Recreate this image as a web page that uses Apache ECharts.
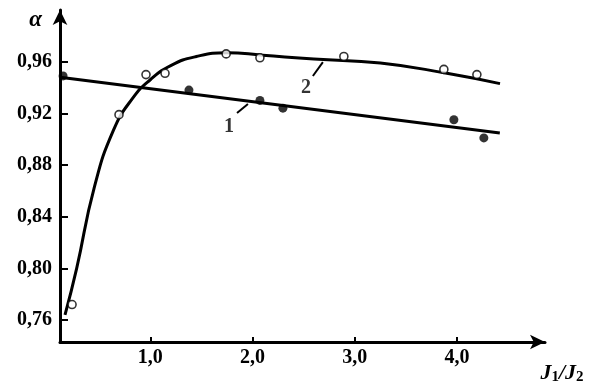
<!DOCTYPE html>
<html>
<head>
<meta charset="utf-8">
<script src="https://cdn.jsdelivr.net/npm/echarts@6/dist/echarts.min.js"></script>
<style>
    html, body { margin: 0; padding: 0; background: #fff; }
    #chart { width: 594px; height: 390px; }
</style>
</head>
<body>
<div id="chart"></div>
<script>
// ticks
var xTicks = [1.0, 2.0, 3.0, 4.0];
var yTicks = [0.76, 0.80, 0.84, 0.88, 0.92, 0.96];

// curve 1 (filled points) and its straight line
var points1 = [[0.147, 0.949], [1.378, 0.938], [2.072, 0.930], [2.297, 0.924], [3.969, 0.915], [4.262, 0.901]];
var line1 = [[0.117, 0.948], [4.418, 0.9047]];

// curve 2 (open points) and its smooth curve
var points2 = [[0.235, 0.772], [0.694, 0.919], [0.958, 0.950], [1.144, 0.951], [1.742, 0.966], [2.072, 0.963], [2.893, 0.964], [3.871, 0.954], [4.194, 0.950]];
var line2 = [[0.166, 0.764], [0.28, 0.80], [0.45, 0.862], [0.64, 0.907], [0.83, 0.932], [1.0, 0.946], [1.2, 0.957],
    [1.45, 0.964], [1.75, 0.967], [2.1, 0.965], [2.6, 0.962], [3.25, 0.959], [3.9, 0.951], [4.42, 0.943]];

// curve numbers with leader strokes
var curveNames = ['1', '2'];
var labelPos = [[1.769, 0.9094], [2.522, 0.9396]];
var leader1 = [[1.848, 0.9202], [1.955, 0.9272]];
var leader2 = [[2.59, 0.9489], [2.688, 0.9597]];

var chart = echarts.init(document.getElementById('chart'));

var font = 'Liberation Serif';
var comma = function (v, d) { return v.toFixed(d).replace('.', ','); };

var option = {
    backgroundColor: '#fff',
    animation: false,
    grid: {left: 60, right: 49, top: 10, bottom: 48},
    xAxis: {
        type: 'value',
        min: 0.117,
        max: 4.86,
        name: '{i|J}{s|1}{i|/J}{s|2}',
        nameLocation: 'end',
        nameGap: 17,
        nameTextStyle: {
            align: 'center',
            verticalAlign: 'top',
            padding: [20, 0, 0, 0],
            rich: {
                i: {fontFamily: font, fontStyle: 'italic', fontWeight: 'bold', fontSize: 22, color: '#000'},
                s: {fontFamily: font, fontWeight: 'bold', fontSize: 15, color: '#000', verticalAlign: 'bottom', padding: [8, 0, 0, 0]}
            }
        },
        axisLine: {
            lineStyle: {color: '#000', width: 3},
            symbol: ['none', 'arrow'],
            symbolSize: [11, 15]
        },
        axisTick: {
            customValues: xTicks,
            inside: true,
            length: 5,
            lineStyle: {color: '#000', width: 2}
        },
        axisLabel: {
            customValues: xTicks,
            margin: 6,
            fontFamily: font,
            fontWeight: 'bold',
            fontSize: 20,
            color: '#000',
            formatter: function (v) { return comma(v, 1); }
        },
        splitLine: {show: false}
    },
    yAxis: {
        type: 'value',
        min: 0.743,
        max: 1.0,
        name: 'α',
        nameLocation: 'end',
        nameGap: -22,
        nameTextStyle: {
            align: 'right',
            padding: [0, 18, 0, 0],
            fontFamily: font,
            fontStyle: 'italic',
            fontWeight: 'bold',
            fontSize: 23,
            color: '#000'
        },
        axisLine: {
            lineStyle: {color: '#000', width: 3},
            symbol: ['none', 'arrow'],
            symbolSize: [11, 15]
        },
        axisTick: {
            customValues: yTicks,
            inside: true,
            length: 8,
            lineStyle: {color: '#000', width: 2}
        },
        axisLabel: {
            customValues: yTicks,
            margin: 8,
            fontFamily: font,
            fontWeight: 'bold',
            fontSize: 20,
            color: '#000',
            formatter: function (v) { return comma(v, 2); }
        },
        splitLine: {show: false}
    },
    series: [
        {
            type: 'line',
            data: line1,
            showSymbol: false,
            lineStyle: {color: '#000', width: 3},
            z: 2
        },
        {
            type: 'line',
            data: line2,
            smooth: 0.5,
            showSymbol: false,
            lineStyle: {color: '#000', width: 3},
            z: 2
        },
        {
            type: 'line',
            data: leader1,
            showSymbol: false,
            lineStyle: {color: '#000', width: 2},
            z: 2
        },
        {
            type: 'line',
            data: leader2,
            showSymbol: false,
            lineStyle: {color: '#000', width: 2},
            z: 2
        },
        {
            type: 'scatter',
            data: points1,
            symbol: 'circle',
            symbolSize: 9,
            itemStyle: {color: '#000'},
            z: 3
        },
        {
            type: 'scatter',
            data: points2,
            symbol: 'circle',
            symbolSize: 8,
            itemStyle: {color: '#fff', borderColor: '#000', borderWidth: 1.6},
            z: 3
        },
        {
            type: 'scatter',
            data: labelPos.map(function (p, i) { return {value: p, name: curveNames[i]}; }),
            symbolSize: 0,
            label: {
                show: true,
                position: 'inside',
                formatter: '{b}',
                fontFamily: font,
                fontWeight: 'bold',
                fontSize: 20,
                color: '#000'
            },
            z: 3
        }
    ]
};

chart.setOption(option);
</script>
</body>
</html>
